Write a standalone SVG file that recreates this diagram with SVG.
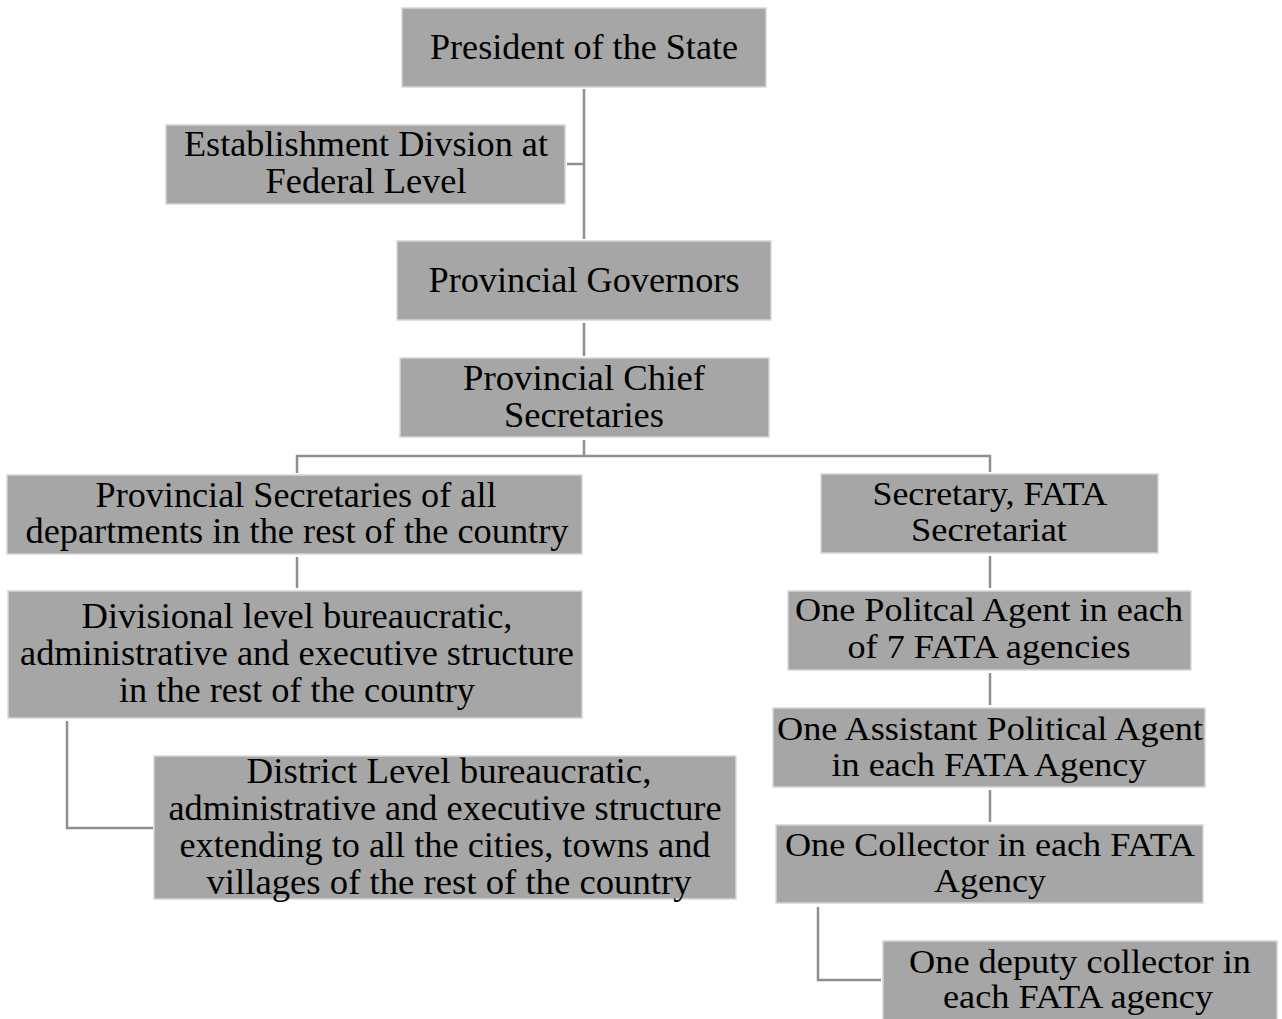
<svg xmlns="http://www.w3.org/2000/svg" width="1282" height="1019" viewBox="0 0 1282 1019">
  <style>
    .box { fill: #a6a6a6; stroke: #d6d6d6; stroke-width: 1.5; }
    .lbl { font-family: "Liberation Serif", "Times New Roman", serif; fill: #000; text-anchor: middle; }
    .l { font-size: 36px; }
    .r { font-size: 34px; }
    .conn { fill: none; stroke: #8f8f8f; stroke-width: 2.5; }
  </style>
  <rect width="1282" height="1019" fill="#ffffff"/>

  <!-- connectors -->
  <g id="connectors">
    <path class="conn" d="M584 89 V239"/>
    <path class="conn" d="M567 164 H584"/>
    <path class="conn" d="M584 323 V356"/>
    <path class="conn" d="M584 440 V456"/>
    <path class="conn" d="M297 473 V456 H990 V472"/>
    <path class="conn" d="M297 557 V588"/>
    <path class="conn" d="M67 721 V828 H153"/>
    <path class="conn" d="M990 556 V588"/>
    <path class="conn" d="M990 673 V705"/>
    <path class="conn" d="M990 790 V822"/>
    <path class="conn" d="M818 907 V980 H881"/>
  </g>

  <!-- federal and provincial levels -->
  <g id="president">
    <rect class="box" x="402" y="8" width="364" height="79"/>
    <text class="lbl l" x="584" y="59" textLength="308" lengthAdjust="spacingAndGlyphs">President of the State</text>
  </g>
  <g id="establishment-division">
    <rect class="box" x="166" y="125" width="399" height="79"/>
    <text class="lbl l" x="366" y="156" textLength="364" lengthAdjust="spacingAndGlyphs">Establishment Divsion at</text>
    <text class="lbl l" x="366" y="193" textLength="201" lengthAdjust="spacingAndGlyphs">Federal Level</text>
  </g>
  <g id="provincial-governors">
    <rect class="box" x="397" y="241" width="374" height="79"/>
    <text class="lbl l" x="584" y="292" textLength="311" lengthAdjust="spacingAndGlyphs">Provincial Governors</text>
  </g>
  <g id="chief-secretaries">
    <rect class="box" x="400" y="358" width="369" height="79"/>
    <text class="lbl l" x="584" y="390" textLength="242" lengthAdjust="spacingAndGlyphs">Provincial Chief</text>
    <text class="lbl l" x="584" y="427" textLength="160" lengthAdjust="spacingAndGlyphs">Secretaries</text>
  </g>

  <!-- rest of the country branch -->
  <g id="provincial-secretaries">
    <rect class="box" x="7" y="475" width="575" height="79"/>
    <text class="lbl l" x="296" y="507" textLength="401" lengthAdjust="spacingAndGlyphs">Provincial Secretaries of all</text>
    <text class="lbl l" x="297" y="543" textLength="543" lengthAdjust="spacingAndGlyphs">departments in the rest of the country</text>
  </g>
  <g id="divisional-level">
    <rect class="box" x="8" y="591" width="574" height="127"/>
    <text class="lbl l" x="297" y="628" textLength="431" lengthAdjust="spacingAndGlyphs">Divisional level bureaucratic,</text>
    <text class="lbl l" x="297" y="665" textLength="554" lengthAdjust="spacingAndGlyphs">administrative and executive structure</text>
    <text class="lbl l" x="297" y="702" textLength="356" lengthAdjust="spacingAndGlyphs">in the rest of the country</text>
  </g>
  <g id="district-level">
    <rect class="box" x="154" y="756" width="582" height="143"/>
    <text class="lbl l" x="449" y="783" textLength="405" lengthAdjust="spacingAndGlyphs">District Level bureaucratic,</text>
    <text class="lbl l" x="445" y="820" textLength="553" lengthAdjust="spacingAndGlyphs">administrative and executive structure</text>
    <text class="lbl l" x="445" y="857" textLength="531" lengthAdjust="spacingAndGlyphs">extending to all the cities, towns and</text>
    <text class="lbl l" x="449" y="894" textLength="485" lengthAdjust="spacingAndGlyphs">villages of the rest of the country</text>
  </g>

  <!-- FATA branch -->
  <g id="fata-secretary">
    <rect class="box" x="821" y="474" width="337" height="79"/>
    <text class="lbl r" x="990" y="505" textLength="235" lengthAdjust="spacingAndGlyphs">Secretary, FATA</text>
    <text class="lbl r" x="989" y="541" textLength="156" lengthAdjust="spacingAndGlyphs">Secretariat</text>
  </g>
  <g id="political-agent">
    <rect class="box" x="788" y="591" width="403" height="79"/>
    <text class="lbl r" x="989" y="621" textLength="388" lengthAdjust="spacingAndGlyphs">One Politcal Agent in each</text>
    <text class="lbl r" x="989" y="658" textLength="283" lengthAdjust="spacingAndGlyphs">of 7 FATA agencies</text>
  </g>
  <g id="assistant-political-agent">
    <rect class="box" x="773" y="708" width="432" height="79"/>
    <text class="lbl r" x="990" y="740" textLength="426" lengthAdjust="spacingAndGlyphs">One Assistant Political Agent</text>
    <text class="lbl r" x="989" y="776" textLength="315" lengthAdjust="spacingAndGlyphs">in each FATA Agency</text>
  </g>
  <g id="collector">
    <rect class="box" x="776" y="825" width="427" height="78"/>
    <text class="lbl r" x="990" y="856" textLength="410" lengthAdjust="spacingAndGlyphs">One Collector in each FATA</text>
    <text class="lbl r" x="990" y="892" textLength="112" lengthAdjust="spacingAndGlyphs">Agency</text>
  </g>
  <g id="deputy-collector">
    <rect class="box" x="883" y="941" width="394" height="80"/>
    <text class="lbl r" x="1080" y="973" textLength="342" lengthAdjust="spacingAndGlyphs">One deputy collector in</text>
    <text class="lbl r" x="1078" y="1008" textLength="270" lengthAdjust="spacingAndGlyphs">each FATA agency</text>
  </g>
</svg>
